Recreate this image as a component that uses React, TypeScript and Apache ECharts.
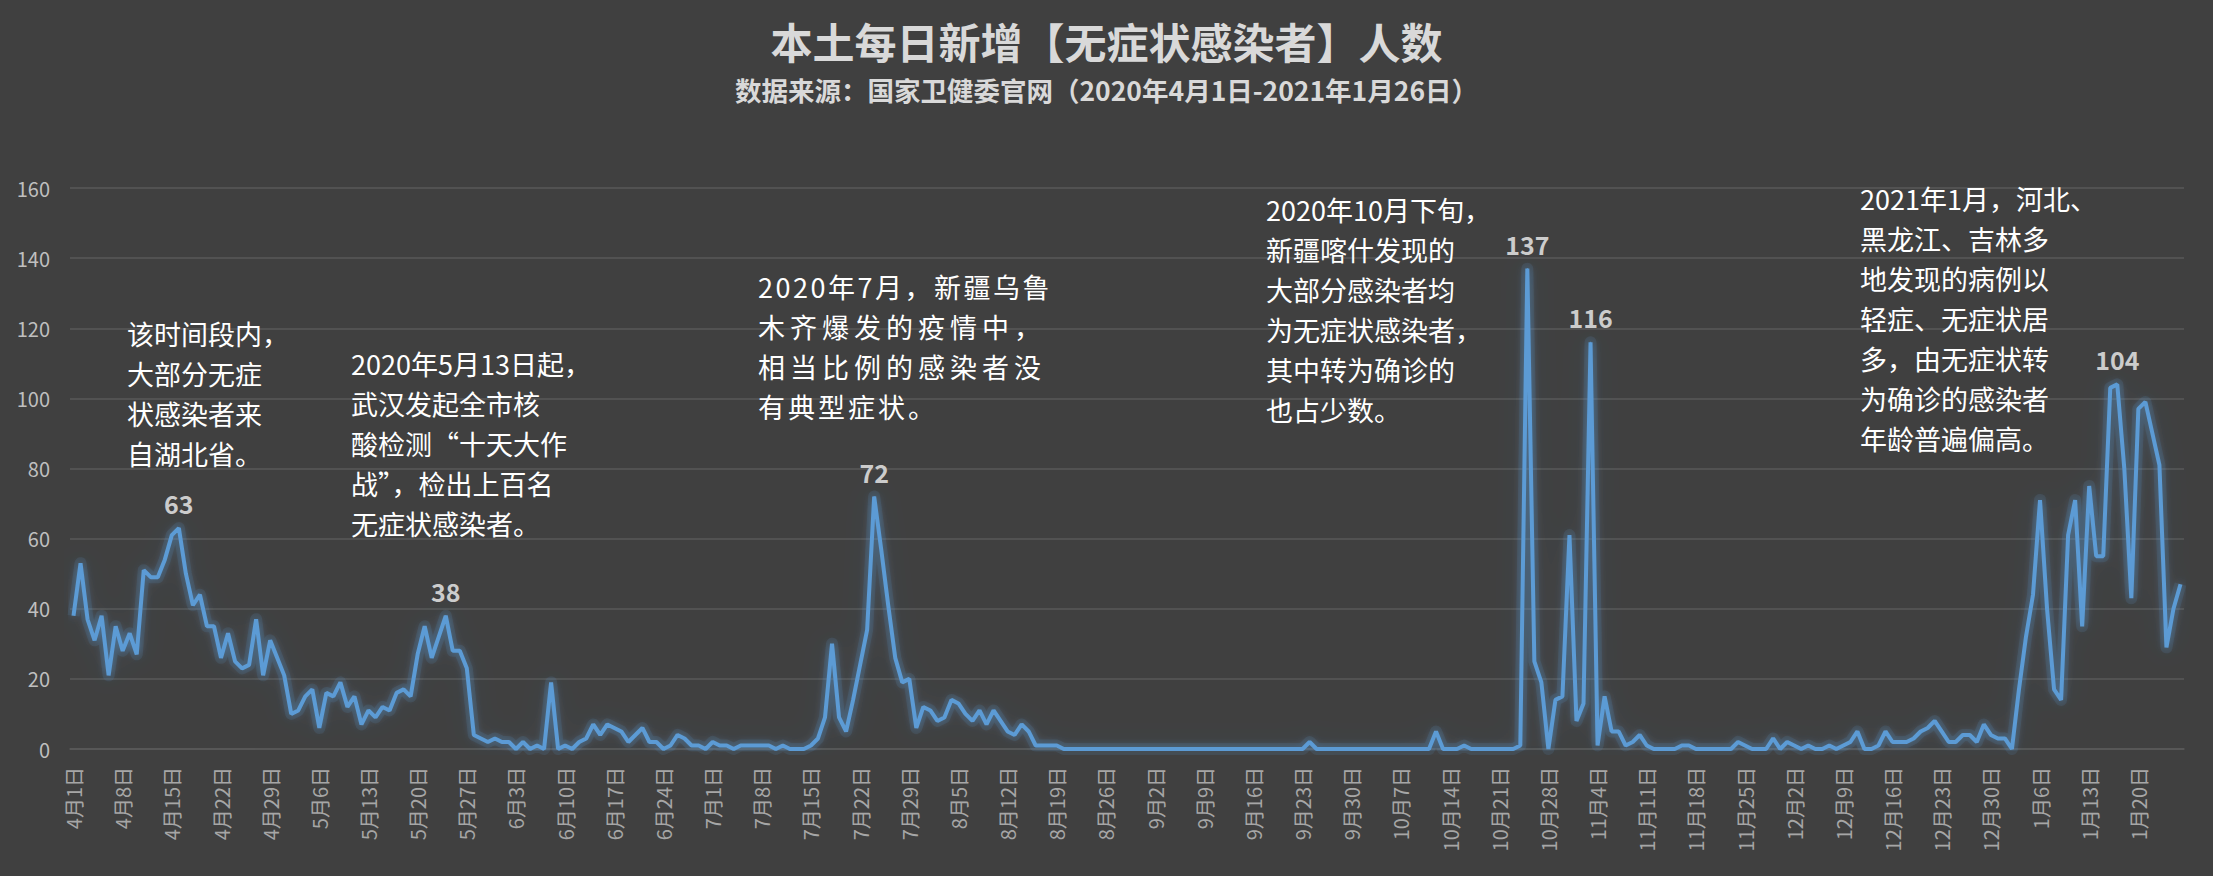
import React, { useEffect, useRef } from "react";
import * as echarts from "echarts";

// Daily new local asymptomatic infections, 2020-04-01 .. 2021-01-26
const apr = [38, 53, 37, 31, 38, 21, 35, 28, 33, 27, 51, 49, 49, 54, 61, 63, 50, 41, 44, 35, 35, 26, 33, 25, 23, 24, 37, 21, 31, 26];
const may = [21, 10, 11, 15, 17, 6, 16, 15, 19, 12, 15, 7, 11, 9, 12, 11, 16, 17, 15, 27, 35, 26, 32, 38, 28, 28, 23, 4, 3, 2, 3];
const jun = [2, 2, 0, 2, 0, 1, 0, 19, 0, 1, 0, 2, 3, 7, 4, 7, 6, 5, 2, 4, 6, 2, 2, 0, 1, 4, 3, 1, 1, 0];
const jul = [2, 1, 1, 0, 1, 1, 1, 1, 1, 0, 1, 0, 0, 0, 1, 3, 9, 30, 9, 5, 14, 24, 34, 72, 57, 41, 26, 19, 20, 6, 12];
const aug = [11, 8, 9, 14, 13, 10, 8, 11, 7, 11, 8, 5, 4, 7, 5, 1, 1, 1, 1, 0, 0, 0, 0, 0, 0, 0, 0, 0, 0, 0, 0];
const sep = [0, 0, 0, 0, 0, 0, 0, 0, 0, 0, 0, 0, 0, 0, 0, 0, 0, 0, 0, 0, 0, 0, 0, 2, 0, 0, 0, 0, 0, 0];
const oct = [0, 0, 0, 0, 0, 0, 0, 0, 0, 0, 0, 5, 0, 0, 0, 1, 0, 0, 0, 0, 0, 0, 0, 1, 137, 25, 19, 0, 14, 15, 61];
const nov = [8, 13, 116, 1, 15, 5, 5, 1, 2, 4, 1, 0, 0, 0, 0, 1, 1, 0, 0, 0, 0, 0, 0, 2, 1, 0, 0, 0, 3, 0];
const dec = [2, 1, 0, 1, 0, 0, 1, 0, 1, 2, 5, 0, 0, 1, 5, 2, 2, 2, 3, 5, 6, 8, 5, 2, 2, 4, 4, 2, 7, 4, 3];
const jan = [3, 0, 17, 32, 44, 71, 40, 17, 14, 61, 71, 35, 75, 55, 55, 103, 104, 80, 43, 97, 99, 90, 81, 29, 40, 47];

const monthNumbers = [4, 5, 6, 7, 8, 9, 10, 11, 12, 1];
const monthValues = [apr, may, jun, jul, aug, sep, oct, nov, dec, jan];

// Peaks that carry a value label
const peakDates = ["4月16日", "5月24日", "7月24日", "10月25日", "11月3日", "1月17日"];

const titleText = "本土每日新增【无症状感染者】人数";
const subtitleText = "数据来源：国家卫健委官网（2020年4月1日-2021年1月26日）";

const note1 = ["该时间段内，", "大部分无症", "状感染者来", "自湖北省。"];
const note2 = ["2020年5月13日起，", "武汉发起全市核", "酸检测“十天大作", "战”，检出上百名", "无症状感染者。"];
const note3 = ["2020年7月，新疆乌鲁", "木齐爆发的疫情中，", "相当比例的感染者没", "有典型症状。"];
const note4 = ["2020年10月下旬，", "新疆喀什发现的", "大部分感染者均", "为无症状感染者，", "其中转为确诊的", "也占少数。"];
const note5 = ["2021年1月，河北、", "黑龙江、吉林多", "地发现的病例以", "轻症、无症状居", "多，由无症状转", "为确诊的感染者", "年龄普遍偏高。"];
const note3Spacing = [2.5, 5, 5, 3];

const FONT = '"Noto Sans CJK SC", "Noto Sans", sans-serif';

export default function App() {
  const ref = useRef<HTMLDivElement>(null);

  useEffect(() => {
    if (!ref.current) return;
    const chart = echarts.init(ref.current, undefined, { renderer: "svg" });

    const categories: string[] = [];
    const values: number[] = [];
    monthNumbers.forEach((m, k) => {
      monthValues[k].forEach((v, d) => {
        categories.push(`${m}月${d + 1}日`);
        values.push(v);
      });
    });

    const seriesData = values.map((v, i) =>
      peakDates.includes(categories[i])
        ? { value: v, symbol: "circle", symbolSize: 1, label: { show: true } }
        : { value: v, symbol: "none" }
    );

    const noteText = (lines: string[], left: number, top: number) => ({
      type: "text",
      left,
      top,
      silent: true,
      z: 10,
      style: {
        text: lines.join("\n"),
        fill: "#ffffff",
        fontSize: 27,
        fontFamily: FONT,
        lineHeight: 40,
      },
    });

    chart.setOption({
      animation: false,
      backgroundColor: "#404040",
      textStyle: { fontFamily: FONT },
      title: [
        {
          text: titleText,
          left: "center",
          top: 14,
          textStyle: { color: "#d9d9d9", fontSize: 42, fontWeight: "bold", fontFamily: FONT },
        },
        {
          text: subtitleText,
          left: "center",
          top: 71,
          textStyle: { color: "#d9d9d9", fontSize: 26.5, fontWeight: "bold", fontFamily: FONT },
        },
      ],
      grid: { left: 70, right: 29, top: 188, bottom: 127, containLabel: false },
      xAxis: {
        type: "category",
        data: categories,
        boundaryGap: true,
        axisLine: { show: true, lineStyle: { color: "#595959", width: 1.5 } },
        axisTick: { show: false },
        axisLabel: {
          interval: 6,
          rotate: 90,
          color: "#a6a6a6",
          fontSize: 20,
          margin: 18,
          fontFamily: FONT,
        },
        splitLine: { show: false },
      },
      yAxis: {
        type: "value",
        min: 0,
        max: 160,
        interval: 20,
        axisLine: { show: false },
        axisTick: { show: false },
        axisLabel: { color: "#bfbfbf", fontSize: 20, margin: 20, fontFamily: FONT },
        splitLine: { lineStyle: { color: "#595959", width: 1.5 } },
      },
      series: [
        {
          // soft glow underlay
          name: "glow",
          type: "line",
          data: values,
          symbol: "none",
          silent: true,
          z: 1,
          lineStyle: {
            color: "rgba(91,155,213,0.12)",
            width: 12,
            join: "round",
            shadowBlur: 26,
            shadowColor: "rgba(91,155,213,0.45)",
          },
          tooltip: { show: false },
        },
        {
          name: "无症状感染者",
          type: "line",
          data: seriesData,
          symbol: "none",
          showAllSymbol: true,
          smooth: false,
          z: 2,
          lineStyle: {
            color: "#5b9bd5",
            width: 4,
            shadowBlur: 8,
            shadowColor: "rgba(91,155,213,0.6)",
          },
          itemStyle: { color: "#5b9bd5" },
          label: {
            show: false,
            position: "top",
            distance: 12,
            color: "#cccccc",
            fontSize: 25,
            fontWeight: "bold",
            fontFamily: FONT,
          },
        },
      ],
      graphic: [
        noteText(note1, 127, 313),
        noteText(note2, 351, 343),
        noteText(note3, 758, 266),
        noteText(note4, 1266, 189),
        noteText(note5, 1860, 178),
      ],
    });

    const applySpacing = () => {
      const el = ref.current;
      if (!el) return;
      el.querySelectorAll("text").forEach((t) => {
        const idx = note3.indexOf((t.textContent || "").trim());
        if (idx >= 0) t.setAttribute("letter-spacing", `${note3Spacing[idx]}px`);
      });
    };
    applySpacing();
    chart.on("rendered", applySpacing);

    return () => {
      chart.dispose();
    };
  }, []);

  return (
    <div
      ref={ref}
      style={{ position: "fixed", left: 0, top: 0, width: 2213, height: 876 }}
    />
  );
}
